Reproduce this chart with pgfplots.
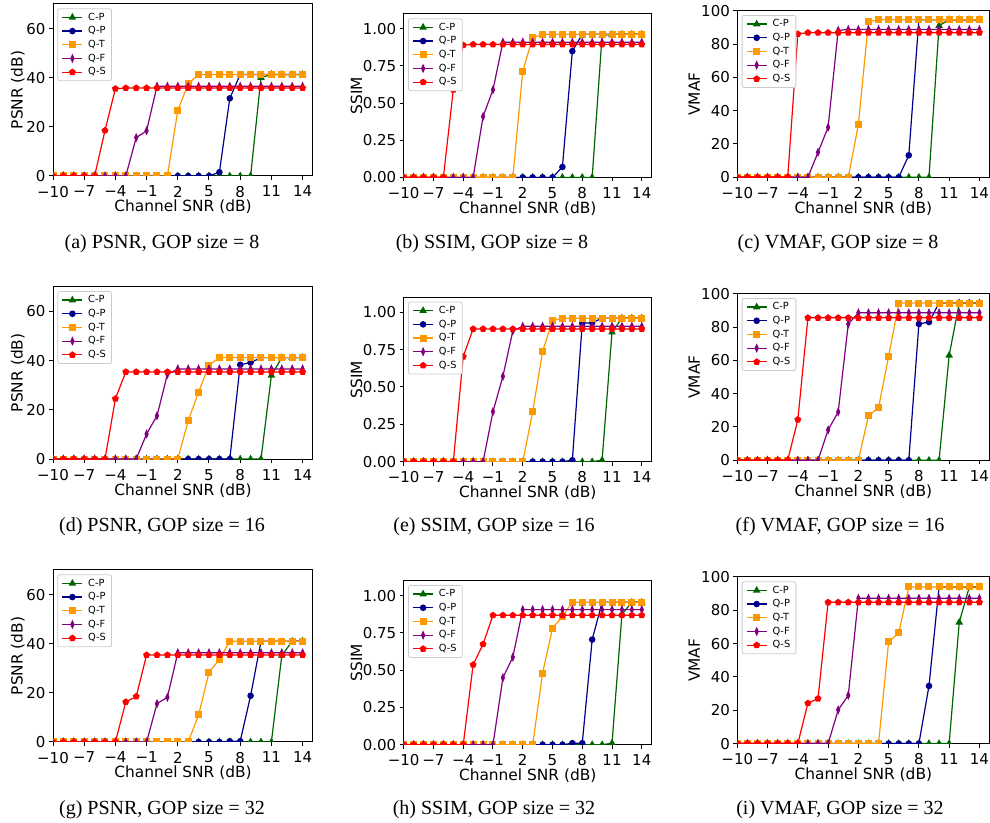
\documentclass[border=0pt]{standalone}
\usepackage{fontspec}
\setmainfont{Liberation Serif}
\newfontfamily\dv{DejaVu Sans}
\usepackage{pgfplots}
\usepackage{pgfplotstable}
\pgfplotsset{compat=1.18}

\definecolor{cpc}{HTML}{006400}
\definecolor{qpc}{HTML}{00008B}
\definecolor{qtc}{HTML}{FF9900}
\definecolor{qfc}{HTML}{800080}
\definecolor{qsc}{HTML}{FF0000}

% PSNR, GOP 8
\pgfplotstableread{
x cp qp qt qf qs
-10 0 0 0 0 0
-9 0 0 0 0 0
-8 0 0 0 0 0
-7 0 0 0 0 0
-6 0 0 0 0 0
-5 0 0 0 0 18.5
-4 0 0 0 0 35.5
-3 0 0 0 0 35.8
-2 0 0 0 15.6 35.8
-1 0 0 0 18.4 35.8
0 0 0 0 36.5 35.8
1 0 0 0 36.5 35.8
2 0 0 26.7 36.5 35.8
3 0 0 37.5 36.5 35.8
4 0 0 41.3 36.5 35.8
5 0 0 41.3 36.5 35.8
6 0 1.5 41.3 36.5 35.8
7 0 31.6 41.3 36.5 35.8
8 0 41.3 41.3 36.5 35.8
9 0 41.3 41.3 36.5 35.8
10 40.0 41.3 41.3 36.5 35.8
11 41.3 41.3 41.3 36.5 35.8
12 41.3 41.3 41.3 36.5 35.8
13 41.3 41.3 41.3 36.5 35.8
14 41.3 41.3 41.3 36.5 35.8
}\tA
% SSIM, GOP 8
\pgfplotstableread{
x cp qp qt qf qs
-10 0 0 0 0 0
-9 0 0 0 0 0
-8 0 0 0 0 0
-7 0 0 0 0 0
-6 0 0 0 0 0
-5 0 0 0 0 0.59
-4 0 0 0 0 0.89
-3 0 0 0 0 0.895
-2 0 0 0 0.41 0.895
-1 0 0 0 0.59 0.895
0 0 0 0 0.91 0.895
1 0 0 0 0.91 0.895
2 0 0 0.715 0.91 0.895
3 0 0 0.94 0.91 0.895
4 0 0 0.963 0.91 0.895
5 0 0 0.963 0.91 0.895
6 0 0.07 0.963 0.91 0.895
7 0 0.85 0.963 0.91 0.895
8 0 0.963 0.963 0.91 0.895
9 0 0.963 0.963 0.91 0.895
10 0.955 0.963 0.963 0.91 0.895
11 0.963 0.963 0.963 0.91 0.895
12 0.963 0.963 0.963 0.91 0.895
13 0.963 0.963 0.963 0.91 0.895
14 0.963 0.963 0.963 0.91 0.895
}\tB
% VMAF, GOP 8
\pgfplotstableread{
x cp qp qt qf qs
-10 0 0 0 0 0
-9 0 0 0 0 0
-8 0 0 0 0 0
-7 0 0 0 0 0
-6 0 0 0 0 0
-5 0 0 0 0 0
-4 0 0 0 0 86
-3 0 0 0 0 86.8
-2 0 0 0 15 86.8
-1 0 0 0 30 86.8
0 0 0 0 88.2 86.8
1 0 0 0 88.7 86.8
2 0 0 31.6 88.7 86.8
3 0 0 93.3 88.7 86.8
4 0 0 94.6 88.7 86.8
5 0 0 94.6 88.7 86.8
6 0 0 94.6 88.7 86.8
7 0 13.2 94.6 88.7 86.8
8 0 94.6 94.6 88.7 86.8
9 0 94.6 94.6 88.7 86.8
10 91 94.6 94.6 88.7 86.8
11 94.6 94.6 94.6 88.7 86.8
12 94.6 94.6 94.6 88.7 86.8
13 94.6 94.6 94.6 88.7 86.8
14 94.6 94.6 94.6 88.7 86.8
}\tC
% PSNR, GOP 16
\pgfplotstableread{
x cp qp qt qf qs
-10 0 0 0 0 0
-9 0 0 0 0 0
-8 0 0 0 0 0
-7 0 0 0 0 0
-6 0 0 0 0 0
-5 0 0 0 0 0
-4 0 0 0 0 24.5
-3 0 0 0 0 35.4
-2 0 0 0 0 35.4
-1 0 0 0 10.2 35.4
0 0 0 0 17.6 35.4
1 0 0 0 34.4 35.4
2 0 0 0 36.6 35.4
3 0 0 15.6 36.6 35.4
4 0 0 27.2 36.6 35.4
5 0 0 38.2 36.6 35.4
6 0 0 41.2 36.6 35.4
7 0 0 41.2 36.6 35.4
8 0 38.3 41.2 36.6 35.4
9 0 39.2 41.2 36.6 35.4
10 0 41.2 41.2 36.6 35.4
11 34.0 41.2 41.2 36.6 35.4
12 41.2 41.2 41.2 36.6 35.4
13 41.2 41.2 41.2 36.6 35.4
14 41.2 41.2 41.2 36.6 35.4
}\tD
% SSIM, GOP 16
\pgfplotstableread{
x cp qp qt qf qs
-10 0 0 0 0 0
-9 0 0 0 0 0
-8 0 0 0 0 0
-7 0 0 0 0 0
-6 0 0 0 0 0
-5 0 0 0 0 0
-4 0 0 0 0 0.703
-3 0 0 0 0 0.888
-2 0 0 0 0 0.888
-1 0 0 0 0.335 0.888
0 0 0 0 0.571 0.888
1 0 0 0 0.875 0.888
2 0 0 0 0.906 0.888
3 0 0 0.333 0.906 0.888
4 0 0 0.737 0.906 0.888
5 0 0 0.944 0.906 0.888
6 0 0 0.96 0.906 0.888
7 0 0.01 0.96 0.906 0.888
8 0 0.926 0.96 0.906 0.888
9 0 0.93 0.96 0.906 0.888
10 0.01 0.96 0.96 0.906 0.888
11 0.866 0.96 0.96 0.906 0.888
12 0.96 0.96 0.96 0.906 0.888
13 0.96 0.96 0.96 0.906 0.888
14 0.96 0.96 0.96 0.906 0.888
}\tE
% VMAF, GOP 16
\pgfplotstableread{
x cp qp qt qf qs
-10 0 0 0 0 0
-9 0 0 0 0 0
-8 0 0 0 0 0
-7 0 0 0 0 0
-6 0 0 0 0 0
-5 0 0 0 0 0
-4 0 0 0 0 24.4
-3 0 0 0 0 85.5
-2 0 0 0 0 85.5
-1 0 0 0 18.2 85.5
0 0 0 0 29 85.5
1 0 0 0 81.8 85.5
2 0 0 0 88.5 85.5
3 0 0 26.6 88.5 85.5
4 0 0 31.6 88.5 85.5
5 0 0 62.4 88.5 85.5
6 0 0 94.4 88.5 85.5
7 0 0 94.4 88.5 85.5
8 0 81.8 94.4 88.5 85.5
9 0 83 94.4 88.5 85.5
10 0 94.4 94.4 88.5 85.5
11 63 94.4 94.4 88.5 85.5
12 94.4 94.4 94.4 88.5 85.5
13 94.4 94.4 94.4 88.5 85.5
14 94.4 94.4 94.4 88.5 85.5
}\tF
% PSNR, GOP 32
\pgfplotstableread{
x cp qp qt qf qs
-10 0 0 0 0 0
-9 0 0 0 0 0
-8 0 0 0 0 0
-7 0 0 0 0 0
-6 0 0 0 0 0
-5 0 0 0 0 0
-4 0 0 0 0 0
-3 0 0 0 0 16.3
-2 0 0 0 0 18.5
-1 0 0 0 0 35.4
0 0 0 0 15.6 35.4
1 0 0 0 18.2 35.4
2 0 0 0 36.3 35.4
3 0 0 0 36.3 35.4
4 0 0 11 36.3 35.4
5 0 0 28.3 36.3 35.4
6 0 0 33.6 36.3 35.4
7 0 0.3 41 36.3 35.4
8 0 0.3 41 36.3 35.4
9 0 18.8 41 36.3 35.4
10 0 41 41 36.3 35.4
11 0 41 41 36.3 35.4
12 35.2 41 41 36.3 35.4
13 41 41 41 36.3 35.4
14 41 41 41 36.3 35.4
}\tG
% SSIM, GOP 32
\pgfplotstableread{
x cp qp qt qf qs
-10 0 0 0 0 0
-9 0 0 0 0 0
-8 0 0 0 0 0
-7 0 0 0 0 0
-6 0 0 0 0 0
-5 0 0 0 0 0
-4 0 0 0 0 0
-3 0 0 0 0 0.536
-2 0 0 0 0 0.674
-1 0 0 0 0 0.868
0 0 0 0 0.449 0.868
1 0 0 0 0.587 0.868
2 0 0 0 0.906 0.868
3 0 0 0 0.906 0.868
4 0 0 0.48 0.906 0.868
5 0 0 0.781 0.906 0.868
6 0 0 0.86 0.906 0.868
7 0 0.01 0.955 0.906 0.868
8 0 0.01 0.955 0.906 0.868
9 0 0.705 0.955 0.906 0.868
10 0 0.955 0.955 0.906 0.868
11 0.01 0.955 0.955 0.906 0.868
12 0.875 0.955 0.955 0.906 0.868
13 0.955 0.955 0.955 0.906 0.868
14 0.955 0.955 0.955 0.906 0.868
}\tH
% VMAF, GOP 32
\pgfplotstableread{
x cp qp qt qf qs
-10 0 0 0 0 0
-9 0 0 0 0 0
-8 0 0 0 0 0
-7 0 0 0 0 0
-6 0 0 0 0 0
-5 0 0 0 0 0
-4 0 0 0 0 0
-3 0 0 0 0 24.2
-2 0 0 0 0 27
-1 0 0 0 0 84.8
0 0 0 0 20.2 84.8
1 0 0 0 29 84.8
2 0 0 0 87.2 84.8
3 0 0 0 87.2 84.8
4 0 0 0 87.2 84.8
5 0 0 61.2 87.2 84.8
6 0 0 66.4 87.2 84.8
7 0 0 94 87.2 84.8
8 0 0 94 87.2 84.8
9 0 34.6 94 87.2 84.8
10 0 94 94 87.2 84.8
11 0 94 94 87.2 84.8
12 72.8 94 94 87.2 84.8
13 94 94 94 87.2 84.8
14 94 94 94 87.2 84.8
}\tI

\pgfplotsset{
  panel/.style={
    scale only axis, anchor=north west,
    xmin=-10, xmax=15, ymin=0,
    tick align=outside, xtick pos=bottom, ytick pos=left,
    major tick length=2pt,
    axis line style={line width=0.5pt},
    every tick/.style={black, line width=0.5pt},
    xtick={-10,-7,-4,-1,2,5,8,11,14},
    xticklabels={−10,−7,−4,−1,2,5,8,11,14},
    tick label style={font=\dv\fontsize{7.5}{8}\selectfont},
    xticklabel style={yshift=0.5pt},
    yticklabel style={xshift=1.8pt},
    xlabel={Channel SNR (dB)},
    every axis x label/.style={at={(axis description cs:0.5,0)}, anchor=base,
      yshift=-18pt, inner sep=0pt, font=\dv\fontsize{7.7}{9}\selectfont},
    clip marker paths=true,
    legend cell align=left,
    legend style={at={(0,1)}, anchor=north west, xshift=2.2pt, yshift=-2.2pt,
      font=\dv\fontsize{4.9}{5}\selectfont, draw=black!20, rounded corners=1pt,
      fill=white, inner xsep=2pt, inner ysep=1.2pt,
      nodes={inner sep=0.8pt, text height=3.7pt, text depth=0.9pt}, row sep=0.65pt,
      /tikz/every odd column/.append style={column sep=1.8pt}},
    legend image code/.code={\draw[mark repeat=2,mark phase=2,##1]
      plot coordinates {(0pt,0pt)(5pt,0pt)(10pt,0pt)};},
  },
  ylab/.style={every axis y label/.style={at={(axis description cs:0,0.5)},
      rotate=90, anchor=south, yshift=#1, inner sep=0pt,
      font=\dv\fontsize{7.7}{9}\selectfont}},
  psnr/.style={panel, ymax=70, ytick={0,20,40,60}, yticklabels={0,20,40,60}, ylabel={PSNR (dB)}, ylab=14pt},
  ssim/.style={panel, ymax=1.1, ytick={0,0.25,0.5,0.75,1}, yticklabels={0.00,0.25,0.50,0.75,1.00}, ylabel={SSIM}, ylab=20.5pt},
  vmaf/.style={panel, ymax=100, ytick={0,20,40,60,80,100}, yticklabels={0,20,40,60,80,100}, ylabel={VMAF}, ylab=18.5pt},
  cp/.style={color=cpc, line width=0.6pt, mark=triangle*, mark size=1.6pt},
  qp/.style={color=qpc, line width=0.6pt, mark=*, mark size=1.33pt},
  qt/.style={color=qtc, line width=0.6pt, mark=square*, mark size=1.45pt},
  qf/.style={color=qfc, line width=0.6pt, mark=diamond*, mark size=1.65pt, mark options={xscale=0.6}},
  qs/.style={color=qsc, line width=0.6pt, mark=pentagon*, mark size=1.45pt},
}

\newcommand\curves[1]{%
  \addplot[cp] table[x=x,y=cp]{#1};
  \addplot[qp] table[x=x,y=qp]{#1};
  \addplot[qt] table[x=x,y=qt]{#1};
  \addplot[qf] table[x=x,y=qf]{#1};
  \addplot[qs] table[x=x,y=qs]{#1};
  \legend{C-P,Q-P,Q-T,Q-F,Q-S}%
}

\begin{document}
\begin{tikzpicture}
\path[use as bounding box] (0,0) rectangle (495pt,411.5pt);

% row 1
\begin{axis}[psnr, at={(26.5pt,409.5pt)}, width=130pt, height=86pt]
\curves{\tA}
\end{axis}
\begin{axis}[ssim, at={(201.85pt,404.5pt)}, width=124pt, height=81.7pt]
\curves{\tB}
\end{axis}
\begin{axis}[vmaf, at={(368.65pt,406.15pt)}, width=126.1pt, height=83.3pt]
\curves{\tC}
\end{axis}

% row 2
\begin{axis}[psnr, at={(26.5pt,268.15pt)}, width=130pt, height=86.2pt]
\curves{\tD}
\end{axis}
\begin{axis}[ssim, at={(201.85pt,262.85pt)}, width=124pt, height=82.2pt]
\curves{\tE}
\end{axis}
\begin{axis}[vmaf, at={(368.65pt,264.65pt)}, width=126.1pt, height=83.3pt]
\curves{\tF}
\end{axis}

% row 3
\begin{axis}[psnr, at={(26.5pt,126.5pt)}, width=130pt, height=86pt]
\curves{\tG}
\end{axis}
\begin{axis}[ssim, at={(201.85pt,121.15pt)}, width=124pt, height=82pt]
\curves{\tH}
\end{axis}
\begin{axis}[vmaf, at={(368.65pt,123pt)}, width=126.1pt, height=83.3pt]
\curves{\tI}
\end{axis}

% captions
\begin{scope}[every node/.style={anchor=base, font=\fontsize{10}{12}\selectfont, inner sep=0pt}]
\node at (81pt,287pt) {(a) PSNR, GOP size = 8};
\node at (246pt,287pt) {(b) SSIM, GOP size = 8};
\node at (419pt,287pt) {(c) VMAF, GOP size = 8};
\node at (81pt,145.5pt) {(d) PSNR, GOP size = 16};
\node at (247pt,145.5pt) {(e) SSIM, GOP size = 16};
\node at (420pt,145.5pt) {(f) VMAF, GOP size = 16};
\node at (81pt,4pt) {(g) PSNR, GOP size = 32};
\node at (247pt,4pt) {(h) SSIM, GOP size = 32};
\node at (420pt,4pt) {(i) VMAF, GOP size = 32};
\end{scope}
\end{tikzpicture}
\end{document}
